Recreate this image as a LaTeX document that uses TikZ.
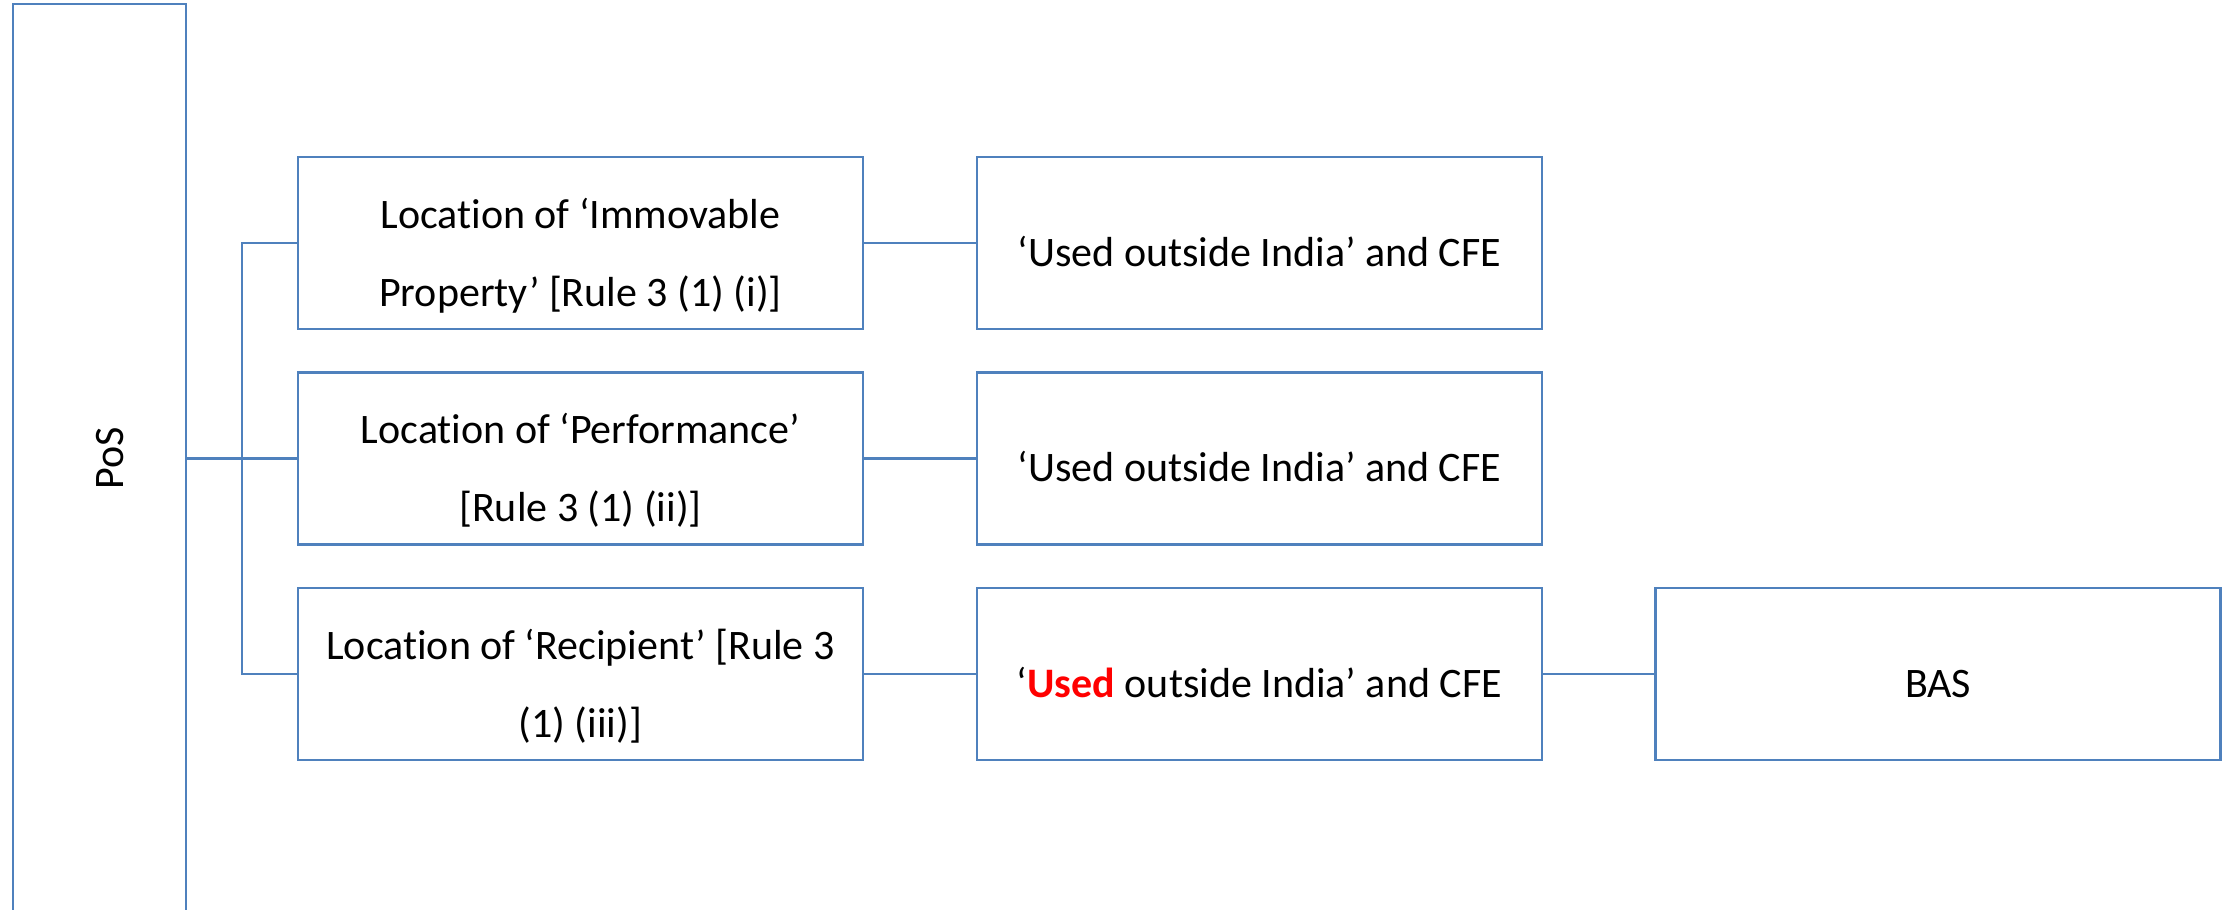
\documentclass[tikz,border=0pt]{standalone}
\usepackage{fontspec}
\setmainfont[RawFeature={-liga;-clig;-calt}]{Carlito}
\definecolor{boxblue}{HTML}{4F81BD}
\definecolor{hired}{HTML}{FF0000}
\begin{document}
\begin{tikzpicture}[x=1pt,y=-1pt,
  boxnode/.style={draw=boxblue, line width=2.5pt, minimum width=565pt,
                  minimum height=172pt, inner sep=0pt, outer sep=0pt},
  link/.style={draw=boxblue, line width=2.5pt},
  txt/.style={inner sep=0pt, anchor=base, font=\fontsize{42}{50}\selectfont}]
\useasboundingbox (0,0) rectangle (2233,910);
\clip (0,0) rectangle (2233,910);

% tall root box
\node[boxnode, minimum width=173pt, minimum height=909pt] (pos) at (99.5,458.5) {};
\node[txt, rotate=90] (posT) at ([xshift=23.5pt]pos.center) {PoS};

% first column: the three rules
\node[boxnode] (r1) at (580.5,243) {};
\node[boxnode] (r2) at (580.5,458.5) {};
\node[boxnode] (r3) at (580.5,674) {};

% second column
\node[boxnode] (u1) at (1259.5,243) {};
\node[boxnode] (u2) at (1259.5,458.5) {};
\node[boxnode] (u3) at (1259.5,674) {};

% third column
\node[boxnode] (bas) at (1938,674) {};

% texts
\node[txt] (r1a) at ([yshift=15pt]r1.center) {Location of ‘Immovable};
\node[txt] (r1b) at ([yshift=-63pt]r1.center) {Property’ [Rule 3 (1) (i)]};
\node[txt] (r2a) at ([yshift=15pt]r2.center) {Location of ‘Performance’};
\node[txt] (r2b) at ([yshift=-63pt]r2.center) {[Rule 3 (1) (ii)]};
\node[txt] (r3a) at ([yshift=15pt]r3.center) {Location of ‘Recipient’ [Rule 3};
\node[txt] (r3b) at ([yshift=-63pt]r3.center) {(1) (iii)]};

\node[txt] (u1t) at ([yshift=-23pt]u1.center) {‘Used outside India’ and CFE};
\node[txt] (u2t) at ([yshift=-23pt]u2.center) {‘Used outside India’ and CFE};
\node[txt] (u3t) at ([yshift=-23pt]u3.center) {‘\textcolor{hired}{\bfseries Used} outside India’ and CFE};
\node[txt] (bast) at ([yshift=-23pt]bas.center) {BAS};

% connectors
\coordinate (trunk) at (242,0);
\draw[link] (pos.east) -- (r2.west);
\draw[link] (r1.west) -- (r1.west -| trunk) -- (r3.west -| trunk) -- (r3.west);
\draw[link] (r1.east) -- (u1.west);
\draw[link] (r2.east) -- (u2.west);
\draw[link] (r3.east) -- (u3.west);
\draw[link] (u3.east) -- (bas.west);
\end{tikzpicture}
\end{document}
